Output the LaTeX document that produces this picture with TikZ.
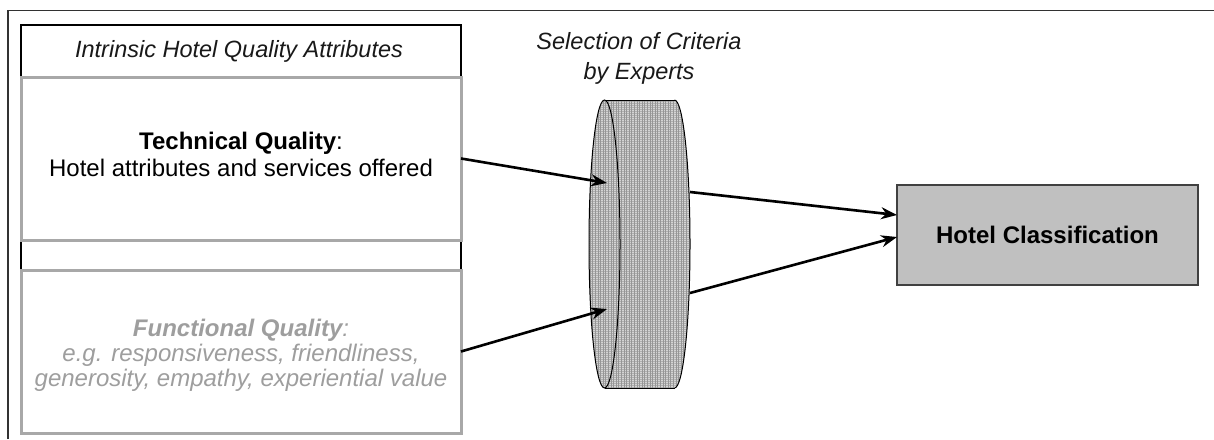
\documentclass[tikz,border=0pt]{standalone}
\usepackage{fontspec}
\setmainfont{Liberation Sans}
\usetikzlibrary{patterns.meta,arrows.meta,calc}

\definecolor{boxgray}{RGB}{168,168,168}
\definecolor{fungray}{RGB}{158,158,158}
\definecolor{hcfill}{RGB}{192,192,192}
\definecolor{hcline}{RGB}{64,64,64}
\definecolor{framegray}{RGB}{50,50,50}
\definecolor{discbase}{RGB}{212,212,212}
\definecolor{discline}{RGB}{150,150,150}
\definecolor{discdot}{RGB}{175,175,175}

\begin{document}
\begin{tikzpicture}[x=1pt, y=-1pt,
  txt/.style={font=\fontsize{24}{27}\selectfont, align=center, inner sep=0pt},
  greybox/.style={draw=boxgray, line width=3pt, fill=white,
    minimum width=440pt, minimum height=163pt, inner sep=0pt, outer sep=0pt},
  link/.style={line width=2.6pt, -{Stealth[length=16pt,width=12pt]}},
  disctex/.style={fill=discbase,
    postaction={pattern={Lines[angle=0,distance=2pt,line width=0.5pt]}, pattern color=discdot},
    postaction={pattern={Lines[angle=90,distance=2.6pt,line width=0.7pt]}, pattern color=discline}},
]
\useasboundingbox (0,0) rectangle (1214,439);

% page frame
\draw[framegray, line width=1.6pt] (8,439) -- (8,10.5) -- (1214,10.5);

% attribute panel with heading row
\node[draw=black, line width=1.4pt, fill=white, minimum width=440pt, minimum height=245pt,
      inner sep=0pt, outer sep=0pt] (panel) at (241,147.5) {};
\node[txt, font=\fontsize{23.5}{27}\selectfont\itshape, text=black!90] (title) at (239,51)
  {Intrinsic Hotel Quality Attributes};

\node[greybox] (tech) at (241,158.5) {};
\node[txt] (techtext) at (241,154)
  {\textbf{Technical Quality}:\\Hotel attributes and services offered};

\node[greybox] (func) at (241,351.5) {};
\node[txt, font=\fontsize{24}{25}\selectfont\itshape, text=fungray] (functext) at (241,355)
  {\textbf{Functional Quality}:\\e.g. responsiveness, friendliness,\\generosity, empathy, experiential value};

% expert selection disc
\begin{scope}
  \fill[disctex] (604.5,100) rectangle (674.5,388);
  \begin{scope}
    \clip (674.5,0) rectangle (720,439);
    \fill[disctex] (674.5,244) ellipse [x radius=15.5, y radius=144];
    \draw[line width=1pt] (674.5,244) ellipse [x radius=15.5, y radius=144];
  \end{scope}
  \draw[line width=1pt] (604.5,100) -- (674.5,100);
  \draw[line width=1pt] (604.5,388) -- (674.5,388);
  \fill[disctex] (604.5,244) ellipse [x radius=15.5, y radius=144];
  \draw[line width=1pt] (604.5,244) ellipse [x radius=15.5, y radius=144];
\end{scope}
\node[txt, font=\fontsize{23.5}{30}\selectfont\itshape, text=black!90] (sel) at (639,58)
  {Selection of Criteria\\by Experts};

\coordinate (inA) at (607,183);
\coordinate (inB) at (607,309);
\coordinate (outA) at (690,192);
\coordinate (outB) at (690,293);

% classification result
\node[draw=hcline, line width=1.4pt, fill=hcfill, minimum width=301pt, minimum height=100pt,
      inner sep=0pt, outer sep=0pt, font=\fontsize{24}{27}\selectfont\bfseries] (hc) at (1047.5,235)
  {Hotel Classification};

% connectors
\draw[link] (tech.east) -- (inA);
\draw[link] (func.east) -- (inB);
\draw[link] (outA) -- ($(hc.west)+(0,-20)$);
\draw[link] (outB) -- ($(hc.west)+(0,2)$);
\end{tikzpicture}
\end{document}
